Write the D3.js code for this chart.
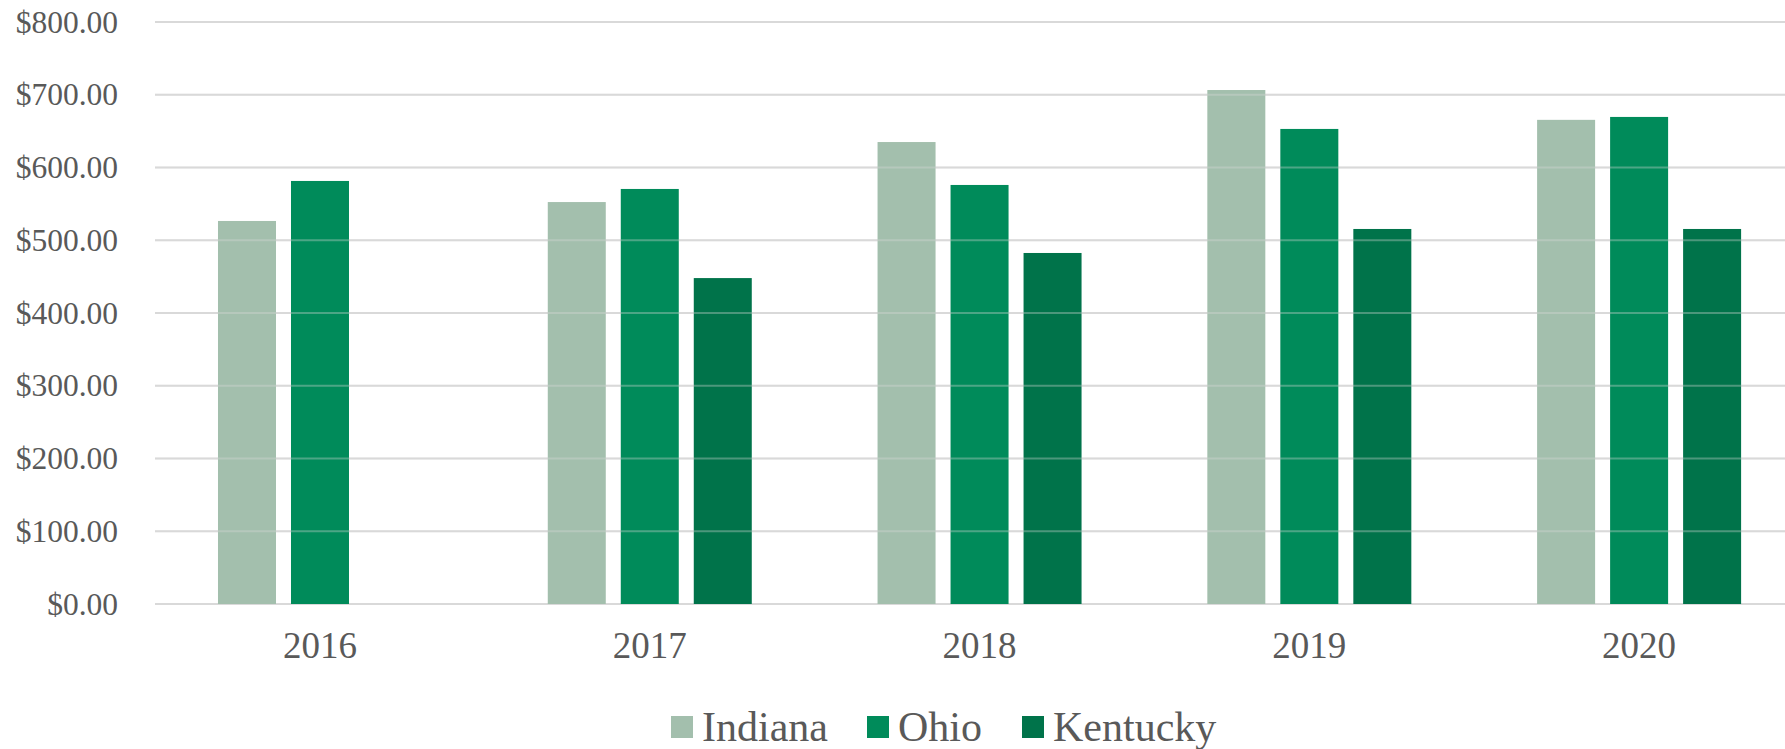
<!DOCTYPE html>
<html><head><meta charset="utf-8">
<script src="https://cdn.jsdelivr.net/npm/d3@7"></script>
<style>html,body{margin:0;padding:0;background:#fff;overflow:hidden}</style>
</head><body>
<svg id="c" width="1785" height="749"></svg>
<script>
const years = ["2016","2017","2018","2019","2020"];
const seriesNames = ["Indiana","Ohio","Kentucky"];
const indiana = [526.5, 552.5, 635, 706.5, 665.5];
const ohio = [581.5, 570.5, 576, 653, 669.5];
const kentucky = [null, 448, 482.5, 515.5, 515.5];
const yTicks = [0,100,200,300,400,500,600,700,800];
const colors = ["#A3BFAD","#008B5A","#00734A"];

const seriesValues = [indiana, ohio, kentucky];
const svg = d3.select("#c");
const x0 = d3.scaleBand().domain(years).range([155.1, 1804]).padding(0);
const x1 = d3.scaleBand().domain(seriesNames).range([-102, 102]).paddingInner(15/73).paddingOuter(0);
const y = d3.scaleLinear().domain([0, 800]).range([604, 22]);
const font = "Liberation Serif, Times New Roman, serif";
const textCol = "#595959";

// gridlines (under)
svg.append("g").selectAll("line").data(yTicks).join("line")
  .attr("x1", 155).attr("x2", 1785)
  .attr("y1", d => y(d)).attr("y2", d => y(d))
  .attr("stroke", "#D9D9D9").attr("stroke-width", 2);

// bars
const data = [];
years.forEach((yr, i) => seriesNames.forEach((s, j) => {
  const v = seriesValues[j][i];
  if (v != null) data.push({yr, s, v, c: colors[j]});
}));
svg.append("g").selectAll("rect").data(data).join("rect")
  .attr("x", d => x0(d.yr) + x0.bandwidth()/2 + x1(d.s))
  .attr("width", x1.bandwidth())
  .attr("y", d => y(d.v))
  .attr("height", d => y(0) - y(d.v))
  .attr("fill", d => d.c);

// faint gridlines over bars
svg.append("g").selectAll("line").data(yTicks.slice(1)).join("line")
  .attr("x1", 155).attr("x2", 1785)
  .attr("y1", d => y(d)).attr("y2", d => y(d))
  .attr("stroke", "#D9D9D9").attr("stroke-width", 2).attr("stroke-opacity", 0.35);

// y axis labels
const fmt = d3.format("$,.2f");
svg.append("g").selectAll("text").data(yTicks).join("text")
  .attr("x", 118).attr("y", d => y(d) + 10.5)
  .attr("text-anchor", "end")
  .attr("font-family", font).attr("font-size", 31.5).attr("fill", textCol)
  .text(d => fmt(d));

// x axis labels
svg.append("g").selectAll("text").data(years).join("text")
  .attr("x", d => x0(d) + x0.bandwidth()/2).attr("y", 658)
  .attr("text-anchor", "middle")
  .attr("font-family", font).attr("font-size", 37).attr("fill", textCol)
  .text(d => d);

// legend
const legX = [671, 867, 1022];
const lg = svg.append("g").selectAll("g").data(seriesNames).join("g")
  .attr("transform", (d,i) => `translate(${legX[i]},0)`);
lg.append("rect").attr("x", 0).attr("y", 716).attr("width", 22).attr("height", 22)
  .attr("fill", (d,i) => colors[i]);
lg.append("text")
  .attr("x", 31).attr("y", 741)
  .attr("font-family", font).attr("font-size", 42).attr("fill", textCol)
  .text(d => d);
</script>
</body></html>
